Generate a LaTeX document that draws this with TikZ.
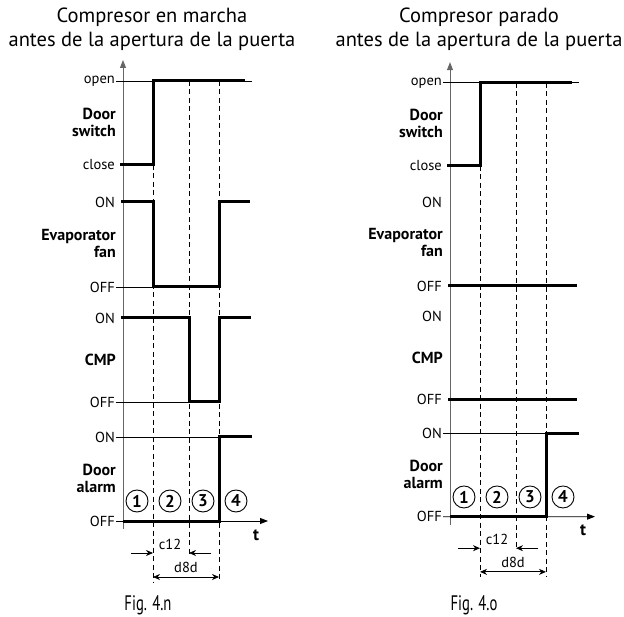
\documentclass[tikz,border=0pt]{standalone}
\usepackage{fontspec}
\setmainfont{PT Sans}
\usetikzlibrary{arrows.meta,positioning}

% parts shared by both panels: #1 is a prefix for the node names
\newcommand{\timingbase}[1]{%
    % guide lines
    \draw[guide] (153,165) -- (153,582);
    \draw[guide] (189,81) -- (189,555);
    \draw[guide] (219,81) -- (219,582);
    % axes
    \coordinate (#1origin) at (123,529);
    \coordinate (#1top) at (123,60);
    \coordinate (#1tend) at (268,521);
    \draw[axis, -{Triangle[length=8pt,width=6pt]}] (#1origin) -- (#1top);
    \draw[lvl, -{Triangle[length=8pt,width=6pt]}] (116,521) -- (#1tend);
    \node[font=\bfseries\fontsize{17}{18}\selectfont] (#1t) at (256,535) {t};
    % door switch
    \node[lbl] (#1open) at (115,81) {open};
    \node[lbl] (#1close) at (115,165) {close};
    \node[sigName] (#1door) at (116,122) {Door\\switch};
    \draw[lvl] (116,81) -- (252,81);
    \draw[sig] (120,165) -- (153,165) -- (153,81) -- (245,81);
    % evaporator fan and compressor labels
    \node[lbl] (#1evon) at (115,202) {ON};
    \node[lbl] (#1evoff) at (115,287) {OFF};
    \node[sigName] (#1evap) at (116,243) {Evaporator\\fan};
    \node[lbl] (#1cmon) at (115,318) {ON};
    \node[lbl] (#1cmoff) at (115,402) {OFF};
    \node[sigName] (#1cmp) at (116,360) {CMP};
    % door alarm
    \node[lbl] (#1alon) at (115,437) {ON};
    \node[lbl] (#1aloff) at (115,521) {OFF};
    \node[sigName] (#1alarm) at (116,478) {Door\\alarm};
    \draw[lvl] (116,437) -- (219,437);
    \draw[sig] (123,521) -- (219,521) -- (219,437) -- (252,437);
    % phases
    \node[phase] (#1ph1) at (137,501) {1};
    \node[phase] (#1ph2) at (170,501) {2};
    \node[phase] (#1ph3) at (203,501) {3};
    \node[phase] (#1ph4) at (236,501) {4};
    % times
    \coordinate (#1c12a) at (131,553);
    \coordinate (#1c12b) at (153,553);
    \coordinate (#1c12c) at (211,553);
    \coordinate (#1c12d) at (189,553);
    \draw[dim] (#1c12a) -- (#1c12b);
    \draw[dim] (#1c12c) -- (#1c12d);
    \node[lbl, anchor=center] (#1c12) at (170,544) {c12};
    \coordinate (#1d8da) at (153,577);
    \coordinate (#1d8db) at (219,577);
    \draw[dim, {Stealth[length=7pt,width=6pt]}-{Stealth[length=7pt,width=6pt]}] (#1d8da) -- (#1d8db);
    \node[lbl, anchor=center] (#1d8d) at (186,567) {d8d};
}

\begin{document}
\begin{tikzpicture}[
        x=1pt, y=-1pt,
        sig/.style={line width=3pt},
        lvl/.style={line width=0.8pt},
        axis/.style={draw=black!60, line width=1pt},
        guide/.style={line width=0.8pt, dash pattern=on 5pt off 3.5pt},
        dim/.style={line width=0.8pt, -{Stealth[length=7pt,width=6pt]}},
        lbl/.style={anchor=east, inner sep=0pt, font=\fontsize{14.5}{15}\selectfont},
        sigName/.style={anchor=east, inner sep=0pt, align=right,
            font=\bfseries\fontsize{16}{17}\selectfont},
        phase/.style={circle, draw, line width=0.9pt, minimum size=22pt,
            inner sep=0pt, font=\bfseries\fontsize{17}{18}\selectfont},
        title/.style={align=center, font=\fontsize{20.5}{24}\selectfont},
        caption/.style={font=\fontsize{21}{22}\selectfont}
    ]
    \useasboundingbox (0,0) rectangle (624,617);

    % titles and captions
    \node[title] (atitle) at (152,29) {Compresor en marcha\\antes de la apertura de la puerta};
    \node[title] (btitle) at (479,29) {Compresor parado\\antes de la apertura de la puerta};
    \node[caption] (acap) at (148,605) {\scalebox{0.7}[1]{Fig. 4.n}};
    \node[caption] (bcap) at (474,605) {\scalebox{0.7}[1]{Fig. 4.o}};

    % left panel: compressor running
    \begin{scope}
        \timingbase{a}
        \draw[lvl] (116,287) -- (153,287);
        \draw[sig] (121,202) -- (153,202) -- (153,287) -- (219,287) -- (219,202) -- (250,202);
        \draw[lvl] (116,402) -- (189,402);
        \draw[sig] (121,318) -- (189,318) -- (189,402) -- (219,402) -- (219,318) -- (251,318);
    \end{scope}

    % right panel: compressor stopped
    \begin{scope}[xshift=327pt, yshift=-3pt, yscale=0.986]
        \timingbase{b}
        \draw[sig] (121,287) -- (250,287);
        \draw[sig] (121,402) -- (250,402);
    \end{scope}
\end{tikzpicture}
\end{document}
